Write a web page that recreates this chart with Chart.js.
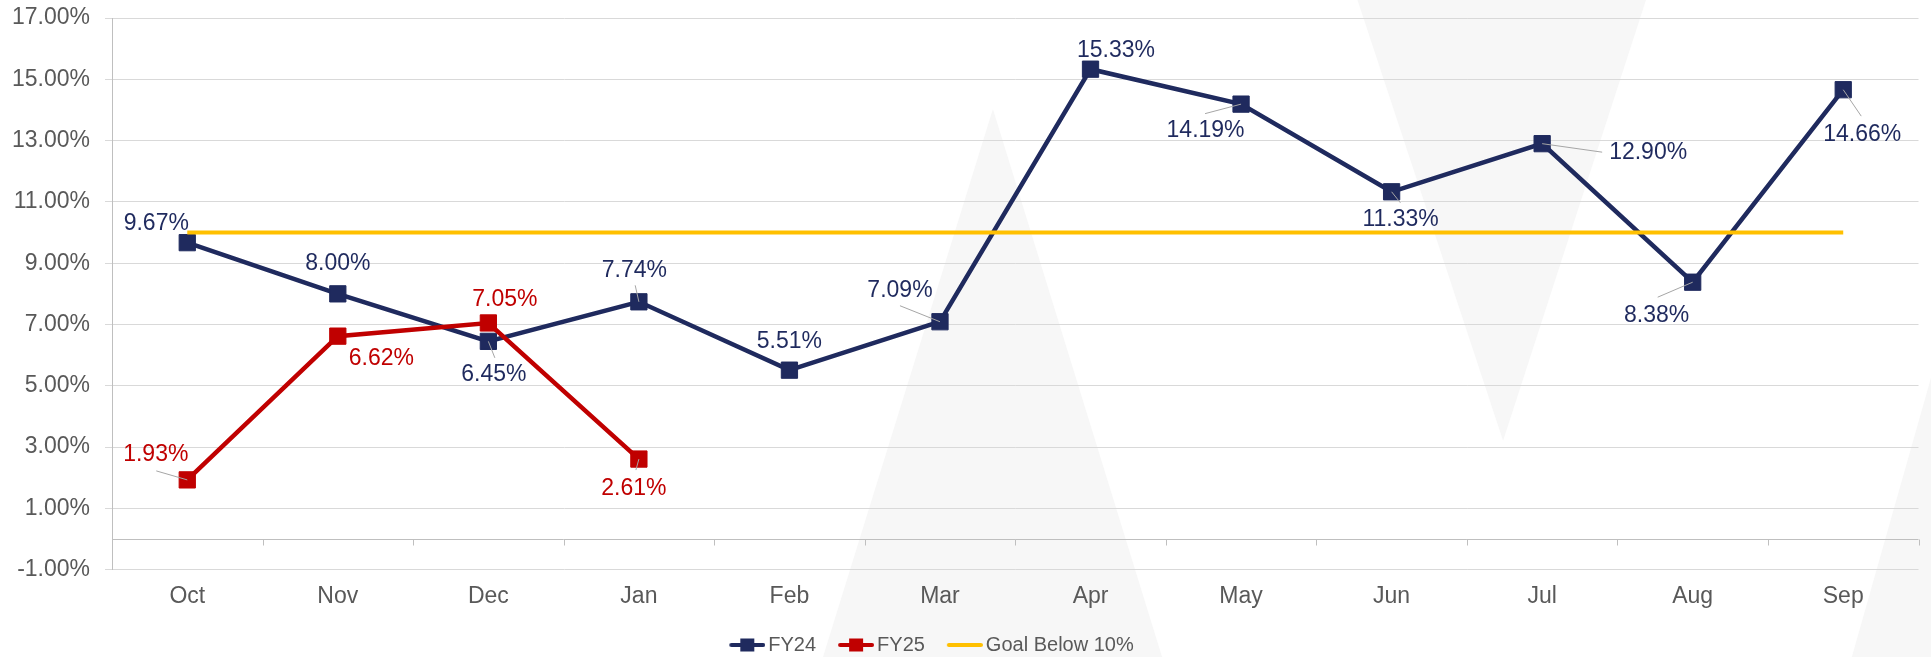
<!DOCTYPE html>
<html>
<head>
<meta charset="utf-8">
<script src="https://cdn.jsdelivr.net/npm/chart.js@4/dist/chart.umd.min.js"></script>
<style>
html,body{margin:0;padding:0;background:#fff;overflow:hidden}
canvas{display:block}
</style>
</head>
<body>
<canvas id="c" width="1931" height="657"></canvas>
<script>
// ---------- data ----------
const categories = ['Oct','Nov','Dec','Jan','Feb','Mar','Apr','May','Jun','Jul','Aug','Sep'];
const fy24 = [9.67, 8.00, 6.45, 7.74, 5.51, 7.09, 15.33, 14.19, 11.33, 12.90, 8.38, 14.66];
const fy25 = [1.93, 6.62, 7.05, 2.61, null, null, null, null, null, null, null, null];
const goal = [10, 10, 10, 10, 10, 10, 10, 10, 10, 10, 10, 10];
const yTicks = [-1, 1, 3, 5, 7, 9, 11, 13, 15, 17];
const seriesNames = ['FY24', 'FY25', 'Goal Below 10%'];

// ---------- styles ----------
const FONT = "'Liberation Sans', Arial, sans-serif";
const NAVY = '#1F2A5E', RED = '#C00000', GOLD = '#FFC000', TEXT = '#595959';
Chart.defaults.font.family = FONT;

// data-label placement (pixel offsets from each point) and leader-line ends
const labelLayout = {
  0: [
    {dx:-31, dy:-19}, {dx:0, dy:-30}, {dx:5.5, dy:33, lead:[6.5,16.5]}, {dx:-4.5, dy:-31.5, lead:[-3.7,-16.5]},
    {dx:0, dy:-29}, {dx:-40, dy:-31, lead:[-40,-16]}, {dx:25.5, dy:-19}, {dx:-35.5, dy:27, lead:[-36,9.5]},
    {dx:9, dy:28, lead:[8.8,11]}, {dx:106, dy:8.5, lead:[60,8.5]}, {dx:-36, dy:33, lead:[-35,15]}, {dx:19, dy:44.5, lead:[18,26.4]}
  ],
  1: [
    {dx:-31.5, dy:-25, lead:[-31,-9]}, {dx:43.5, dy:23}, {dx:16.5, dy:-23.4}, {dx:-5, dy:30, lead:[-3,11]}
  ]
};

// faint background watermark (fractions of canvas size)
const watermark = [
  [[0.5142,0.166],[0.4262,1.0],[0.6018,1.0]],
  [[0.7030,0.0],[0.8524,0.0],[0.7784,0.671]],
  [[1.0,0.575],[1.0,1.0],[0.9590,1.0]]
];

const LEG_BOX = 48;          // reserved legend box width
const LEG_SHIFT = -47;       // legend horizontal nudge
function legendIcon(color, marker) {
  const cv = document.createElement('canvas');
  cv.width = LEG_BOX + 14; cv.height = 14;
  const g = cv.getContext('2d');
  const x0 = cv.width - 36;
  g.strokeStyle = color; g.lineWidth = 4; g.lineCap = 'round';
  g.beginPath(); g.moveTo(x0 + 2, 7); g.lineTo(x0 + 34, 7); g.stroke();
  if (marker) { g.fillStyle = color; g.fillRect(x0 + 11, 0.5, 14, 13); }
  return cv;
}
const legendIcons = [legendIcon(NAVY, true), legendIcon(RED, true), legendIcon(GOLD, false)];

const backgroundPlugin = {
  id: 'bg',
  afterLayout(chart) {
    const lg = chart.legend;
    if (lg && !lg._nudged) { lg.left += LEG_SHIFT; lg.right += LEG_SHIFT; lg._nudged = true; }
  },
  beforeDraw(chart) {
    const {ctx, width, height} = chart;
    ctx.save();
    ctx.fillStyle = '#FFFFFF';
    ctx.fillRect(0, 0, width, height);
    ctx.fillStyle = '#F7F7F7';
    watermark.forEach(poly => {
      ctx.beginPath();
      poly.forEach(([fx, fy], i) => { const px = fx * width, py = fy * height; i ? ctx.lineTo(px, py) : ctx.moveTo(px, py); });
      ctx.closePath(); ctx.fill();
    });
    ctx.restore();
  }
};

const zeroAxisPlugin = {
  id: 'zeroAxis',
  beforeDatasetsDraw(chart) {
    const {ctx, chartArea, scales: {x, y}} = chart;
    const y0 = Math.round(y.getPixelForValue(0)) + 0.5;
    ctx.save();
    ctx.strokeStyle = '#BFBFBF'; ctx.lineWidth = 1;
    ctx.beginPath();
    ctx.moveTo(chartArea.left, y0); ctx.lineTo(chartArea.right, y0);
    for (let i = 0; i <= categories.length; i++) {
      const xx = Math.round(x.getPixelForValue(i - 0.5)) + 0.5;
      ctx.moveTo(xx, y0); ctx.lineTo(xx, y0 + 6);
    }
    ctx.stroke();
    ctx.restore();
  }
};

const dataLabelPlugin = {
  id: 'dataLabels',
  afterDatasetsDraw(chart) {
    const {ctx} = chart;
    ctx.save();
    ctx.font = '23px ' + FONT;
    ctx.textAlign = 'center'; ctx.textBaseline = 'middle';
    Object.keys(labelLayout).forEach(k => {
      const di = +k, ds = chart.data.datasets[di], meta = chart.getDatasetMeta(di);
      labelLayout[k].forEach((L, i) => {
        const v = ds.data[i];
        if (v === null || v === undefined) return;
        const pt = meta.data[i];
        if (L.lead) {
          ctx.strokeStyle = '#A6A6A6'; ctx.lineWidth = 1;
          ctx.beginPath(); ctx.moveTo(pt.x, pt.y); ctx.lineTo(pt.x + L.lead[0], pt.y + L.lead[1]); ctx.stroke();
        }
        ctx.fillStyle = ds.borderColor;
        ctx.fillText(v.toFixed(2) + '%', pt.x + L.dx, pt.y + L.dy);
      });
    });
    ctx.restore();
  }
};

new Chart(document.getElementById('c'), {
  type: 'line',
  data: {
    labels: categories,
    datasets: [
      {label: seriesNames[0], data: fy24, borderColor: NAVY, backgroundColor: NAVY, borderWidth: 4.5,
       pointStyle: 'rect', pointRadius: 11.5, pointBorderWidth: 1, tension: 0, order: 3},
      {label: seriesNames[1], data: fy25, borderColor: RED, backgroundColor: RED, borderWidth: 4.5,
       pointStyle: 'rect', pointRadius: 11.5, pointBorderWidth: 1, tension: 0, order: 2},
      {label: seriesNames[2], data: goal, borderColor: GOLD, backgroundColor: GOLD, borderWidth: 4,
       pointRadius: 0, tension: 0, order: 1}
    ]
  },
  options: {
    responsive: false, animation: false, devicePixelRatio: 1, events: [],
    layout: {padding: {left: 12, right: 5, top: 18, bottom: -8}},
    scales: {
      x: {
        offset: true,
        grid: {display: false, drawTicks: false},
        border: {display: false},
        ticks: {color: TEXT, font: {size: 23}, padding: 13.5},
        afterFit: s => { s.height = 62.3; }
      },
      y: {
        min: yTicks[0], max: yTicks[yTicks.length - 1],
        afterBuildTicks: s => { s.ticks = yTicks.map(v => ({value: v})); },
        grid: {color: '#D9D9D9', lineWidth: 1, tickLength: 7, drawTicks: true},
        border: {display: true, color: '#BFBFBF'},
        ticks: {color: TEXT, font: {size: 23}, padding: 15, callback: v => Number(v).toFixed(2) + '%'},
        afterFit: s => { s.width = 100; s.paddingTop = 0; s.paddingBottom = 0; }
      }
    },
    plugins: {
      tooltip: {enabled: false},
      legend: {
        position: 'bottom',
        labels: {
          usePointStyle: true, pointStyleWidth: LEG_BOX, padding: 3, color: TEXT,
          font: {size: 20},
          generateLabels: chart => chart.data.datasets.map((ds, i) => ({
            text: ds.label, pointStyle: legendIcons[i], fillStyle: 'rgba(0,0,0,0)',
            strokeStyle: 'rgba(0,0,0,0)', lineWidth: 0, hidden: false, datasetIndex: i, fontColor: TEXT
          }))
        }
      }
    }
  },
  plugins: [backgroundPlugin, zeroAxisPlugin, dataLabelPlugin]
});
</script>
</body>
</html>
